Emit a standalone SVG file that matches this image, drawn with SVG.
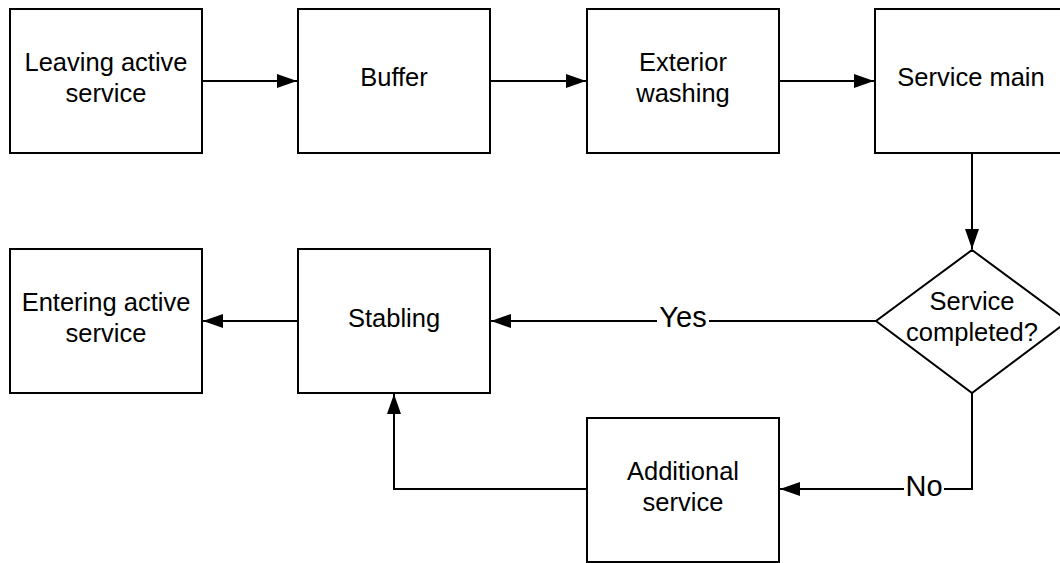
<svg xmlns="http://www.w3.org/2000/svg" width="1060" height="563" viewBox="0 0 1060 563">
  <style>
    .box { fill: #ffffff; stroke: #000000; stroke-width: 2; }
    .txt { font-family: "Liberation Sans", Arial, sans-serif; font-size: 25.5px; fill: #000000; text-anchor: middle; }
    .lbl { font-family: "Liberation Sans", Arial, sans-serif; font-size: 29px; fill: #000000; text-anchor: middle; }
    .edge { fill: none; stroke: #000000; stroke-width: 2; }
  </style>
  <defs>
    <marker id="arrow" markerUnits="userSpaceOnUse" markerWidth="20" markerHeight="14" refX="20" refY="7" orient="auto">
      <path d="M0,0 L20,7 L0,14 Z" fill="#000000"/>
    </marker>
  </defs>
  <rect width="1060" height="563" fill="#ffffff"/>

  <!-- connectors -->
  <g id="connectors">
    <path class="edge" d="M202,81 H297" marker-end="url(#arrow)"/>
    <path class="edge" d="M490,81 H586" marker-end="url(#arrow)"/>
    <path class="edge" d="M779,81 H874" marker-end="url(#arrow)"/>
    <path class="edge" d="M972,153 V249" marker-end="url(#arrow)"/>
    <path class="edge" d="M876,321 H491" marker-end="url(#arrow)"/>
    <path class="edge" d="M298,321 H203" marker-end="url(#arrow)"/>
    <path class="edge" d="M972,393 V489 H780" marker-end="url(#arrow)"/>
    <path class="edge" d="M587,489 H394 V394" marker-end="url(#arrow)"/>
    <g id="label-yes">
      <rect x="657" y="304" width="52" height="32" fill="#ffffff"/>
      <text class="lbl" x="683" y="327">Yes</text>
    </g>
    <g id="label-no">
      <rect x="904" y="472" width="40" height="32" fill="#ffffff"/>
      <text class="lbl" x="924" y="496">No</text>
    </g>
  </g>

  <!-- nodes -->
  <g id="leaving">
    <rect class="box" x="10" y="9" width="192" height="144"/>
    <text class="txt" x="106" y="71">Leaving active</text>
    <text class="txt" x="106" y="102">service</text>
  </g>
  <g id="buffer">
    <rect class="box" x="298" y="9" width="192" height="144"/>
    <text class="txt" x="394" y="86">Buffer</text>
  </g>
  <g id="exterior">
    <rect class="box" x="587" y="9" width="192" height="144"/>
    <text class="txt" x="683" y="71">Exterior</text>
    <text class="txt" x="683" y="102">washing</text>
  </g>
  <g id="service-main">
    <rect class="box" x="875" y="9" width="192" height="144"/>
    <text class="txt" x="971" y="86">Service main</text>
  </g>
  <g id="decision">
    <polygon class="box" points="972,250 1068,321 972,393 876,321"/>
    <text class="txt" x="972" y="310">Service</text>
    <text class="txt" x="972" y="341">completed?</text>
  </g>
  <g id="stabling">
    <rect class="box" x="298" y="249" width="192" height="144"/>
    <text class="txt" x="394" y="327">Stabling</text>
  </g>
  <g id="entering">
    <rect class="box" x="10" y="249" width="192" height="144"/>
    <text class="txt" x="106" y="311">Entering active</text>
    <text class="txt" x="106" y="342">service</text>
  </g>
  <g id="additional">
    <rect class="box" x="587" y="418" width="192" height="144"/>
    <text class="txt" x="683" y="480">Additional</text>
    <text class="txt" x="683" y="511">service</text>
  </g>
</svg>
